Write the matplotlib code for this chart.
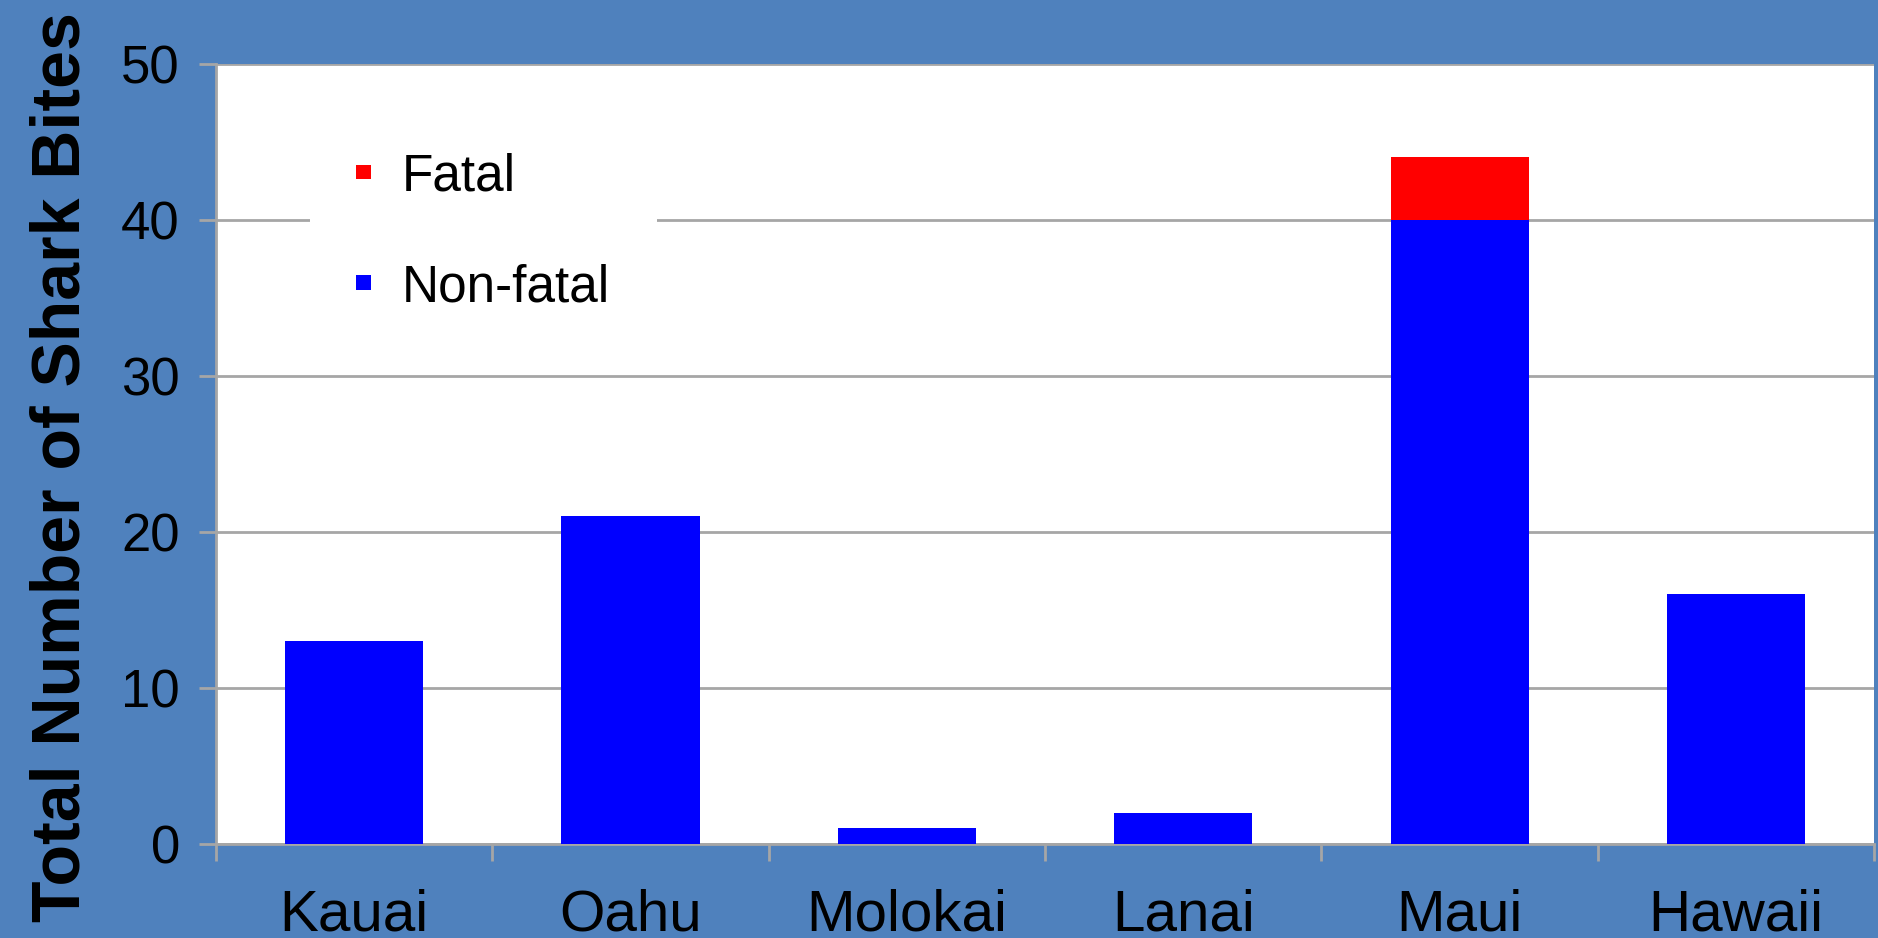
import numpy as np
from matplotlib import pyplot as plt

islands = ['Kauai', 'Oahu', 'Molokai', 'Lanai', 'Maui', 'Hawaii']
nonfatal = [13, 21, 1, 2, 40, 16]
fatal = [0, 0, 0, 0, 4, 0]

bg = '#4F81BD'
grid_col = '#A6A6A6'

plt.rcParams['font.family'] = ['Liberation Sans', 'DejaVu Sans']

fig = plt.figure(figsize=(18.78, 9.38), dpi=100, facecolor=bg)
ax = fig.add_axes([0.115, 0.1002, 0.883, 0.8321])
ax.set_facecolor('white')

x = np.arange(len(islands))
ax.bar(x, nonfatal, width=0.5, color='#0000FF', label='Non-fatal', zorder=3)
ax.bar(x, fatal, width=0.5, bottom=nonfatal, color='#FF0000', label='Fatal', zorder=3)

ax.set_xlim(-0.5, len(islands) - 0.5)
ax.set_ylim(0, 50)
ax.set_yticks(range(0, 51, 10))
ax.yaxis.grid(True, color=grid_col, linewidth=2, zorder=0)
ax.set_axisbelow(True)

for s in ['top', 'right']:
    ax.spines[s].set_visible(False)
for s in ['left', 'bottom']:
    ax.spines[s].set_color(grid_col)
    ax.spines[s].set_linewidth(2)

# ticks at category boundaries, labels centred under bars
ax.set_xticks(np.arange(-0.5, len(islands), 1.0))
ax.set_xticklabels([])
ax.set_xticks(x, minor=True)
ax.set_xticklabels(islands, minor=True, fontsize=42)
ax.tick_params(axis='x', which='minor', length=0, pad=32)
ax.tick_params(axis='x', which='major', length=12, width=2, color=grid_col)
ax.tick_params(axis='y', length=12, width=2, color=grid_col, labelsize=38, pad=14)

ax.set_ylabel('Total Number of Shark Bites', fontsize=49, fontweight='bold')
ax.yaxis.set_label_coords(-0.074, 0.483)

h, l = ax.get_legend_handles_labels()
leg = ax.legend(h[::-1], l[::-1], loc='upper left', bbox_to_anchor=(0.041, 0.978),
                fontsize=37, frameon=True, fancybox=False, edgecolor='white',
                framealpha=1, handlelength=0.3, handleheight=0.05,
                handletextpad=0.6, labelspacing=1.2, borderpad=0.9)
leg.get_frame().set_linewidth(0)

fig.savefig('out.png', dpi=100, facecolor=bg)
